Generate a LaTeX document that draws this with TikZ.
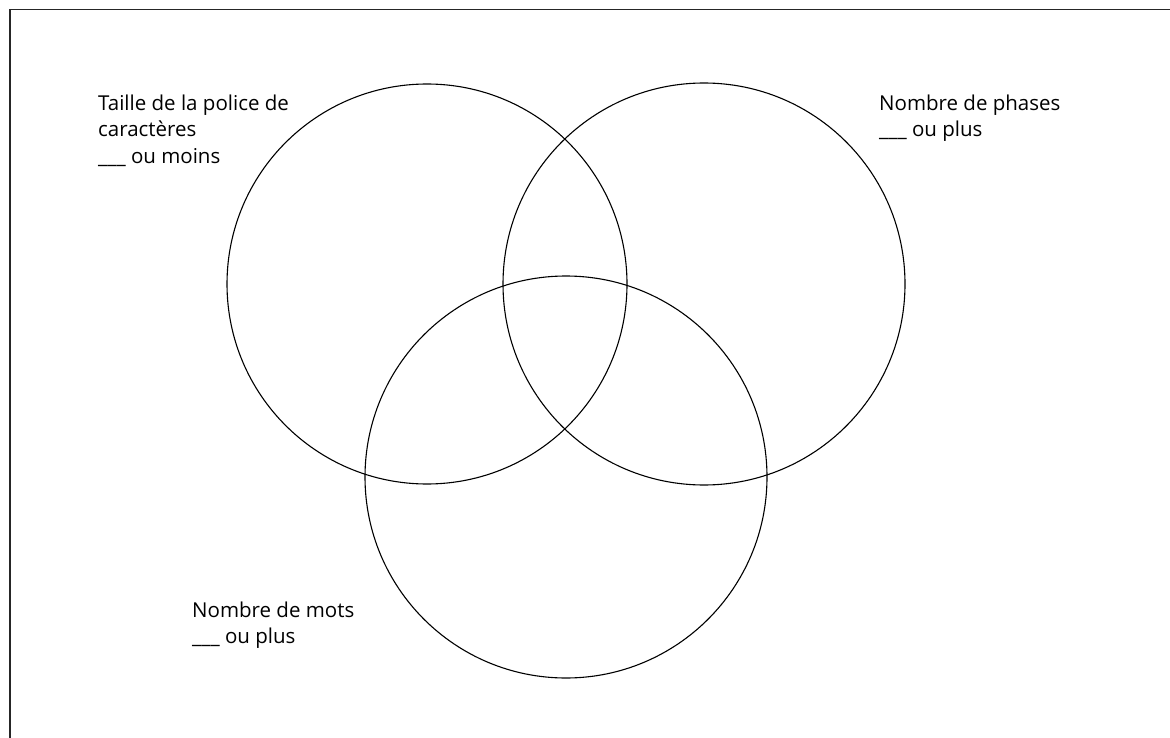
\documentclass[tikz,border=0pt]{standalone}
\usepackage{fontspec}
\setmainfont{Open Sans}
\usepackage{tikz}
\usetikzlibrary{positioning}

\begin{document}
\begin{tikzpicture}[
  x=1pt, y=-1pt,
  venn/.style={circle, draw=black, line width=1.1pt, minimum size=400pt, inner sep=0pt},
  lbl/.style={anchor=north west, align=left, inner sep=0pt, font=\fontsize{20.5}{26.5}\selectfont},
]
\useasboundingbox (0,0) rectangle (1170,738);

% frame
\draw[line width=1.6pt, black!85] (10,738) -- (10,9.5) -- (1170,9.5);

% circles
\node[venn] (taille) at (427,284) {};
\node[venn, minimum size=402pt] (phases) at (704,284) {};
\node[venn, minimum size=402pt] (mots) at (566,477) {};

% labels
\node[lbl] (ltaille) at (98,94.5) {Taille de la police de\\caractères\\\_\_\_ ou moins};
\node[lbl] (lphases) at (879,94.5) {Nombre de phases\\\_\_\_ ou plus};
\node[lbl] (lmots) at (192,601.5) {Nombre de mots\\\_\_\_ ou plus};

\end{tikzpicture}
\end{document}
